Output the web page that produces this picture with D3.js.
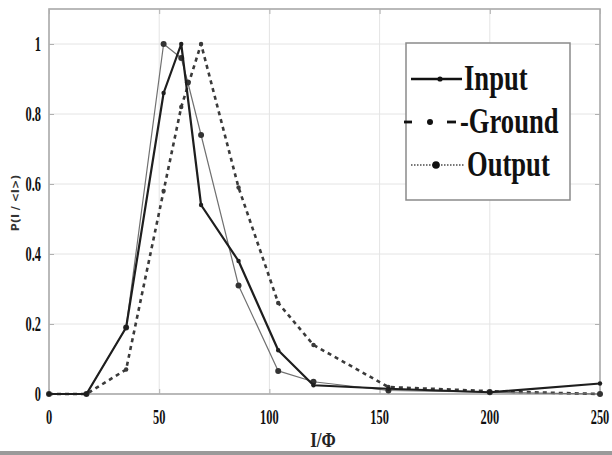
<!DOCTYPE html>
<html><head><meta charset="utf-8">
<script src="https://cdn.jsdelivr.net/npm/d3@7"></script>
<style>body{margin:0;background:#fff}svg{display:block}</style>
</head><body>
<svg id="c" width="612" height="455"></svg>
<script>
const xTicks = [0,50,100,150,200,250];
const yTicks = [0,0.2,0.4,0.6,0.8,1];
const yTickLabels = ["0","0.2","0.4","0.6","0.8","1"];
const seriesNames = ["Input","Ground","Output"];
const xInput = [0,17,35,52,60,69,86,104,120,154,200,250];
const yInput = [0,0,0.19,0.86,1.0,0.54,0.38,0.125,0.025,0.015,0.005,0.03];
const xGround = [0,17,35,52,60,69,86,104,120,154,200,250];
const yGround = [0,0,0.07,0.58,0.82,1.0,0.59,0.26,0.14,0.02,0.008,0.0];
const xOutput = [0,17,35,52,60,63,69,86,104,120,154,200,250];
const yOutput = [0,0,0.19,1.0,0.96,0.89,0.74,0.31,0.066,0.035,0.01,0.005,0.0];

const svg = d3.select("#c");
const L=49,R=600,T=9,B=394;
const x = d3.scaleLinear().domain([0,250]).range([L,R]);
const y = d3.scaleLinear().domain([0,1.1]).range([B,T]);
const condensed = "scale(0.62,1)";
const tickFont = "'Liberation Serif','Times New Roman',serif";

// grid
svg.append("g").selectAll("line").data(xTicks.slice(1,-1)).join("line")
  .attr("x1",d=>x(d)).attr("x2",d=>x(d)).attr("y1",T).attr("y2",B)
  .attr("stroke","#e4e4e4").attr("stroke-width",1);
svg.append("g").selectAll("line").data(yTicks.slice(1)).join("line")
  .attr("x1",L).attr("x2",R).attr("y1",d=>y(d)).attr("y2",d=>y(d))
  .attr("stroke","#e4e4e4").attr("stroke-width",1);

// axes box
svg.append("rect").attr("x",L).attr("y",T).attr("width",R-L).attr("height",B-T)
  .attr("fill","none").attr("stroke","#a8a8a8").attr("stroke-width",1.6);

// inner tick marks
const axB = d3.axisBottom(x).tickValues(xTicks).tickSize(-5).tickFormat("");
const axT = d3.axisTop(x).tickValues(xTicks).tickSize(-5).tickFormat("");
const axLf = d3.axisLeft(y).tickValues(yTicks).tickSize(-5).tickFormat("");
const axRt = d3.axisRight(y).tickValues(yTicks).tickSize(-5).tickFormat("");
[[axB,`translate(0,${B})`],[axT,`translate(0,${T})`],[axLf,`translate(${L},0)`],[axRt,`translate(${R},0)`]].forEach(([a,t])=>{
  const g = svg.append("g").attr("transform",t).call(a);
  g.select(".domain").remove();
  g.selectAll("line").attr("stroke","#b0b0b0");
});

// tick labels
svg.append("g").selectAll("text").data(xTicks).join("text")
  .attr("transform",d=>`translate(${x(d)},${B+30}) ${condensed}`)
  .attr("text-anchor","middle").attr("font-family",tickFont).attr("font-weight","bold")
  .attr("font-size",20).attr("fill","#111").text(d=>d);
svg.append("g").selectAll("text").data(yTicks).join("text")
  .attr("transform",d=>`translate(${L-8},${y(d)+7}) ${condensed}`)
  .attr("text-anchor","end").attr("font-family",tickFont).attr("font-weight","bold")
  .attr("font-size",20).attr("fill","#111").text((d,i)=>yTickLabels[i]);

// axis titles
svg.append("text").attr("transform",`translate(323,447) scale(0.78,1)`)
  .attr("text-anchor","middle").attr("font-family",tickFont).attr("font-weight","bold")
  .attr("font-size",22).attr("fill","#222").text("I/Φ");
svg.append("text").attr("transform","translate(19,203) rotate(-90)")
  .attr("text-anchor","middle").attr("font-family","'DejaVu Sans',sans-serif").attr("font-weight","bold")
  .attr("font-size",11).attr("fill","#333").text("P(I / <I>)");

// series
const styles = {
  Input:{stroke:"#1e1e1e",w:2.2,dash:null,r:2.2},
  Ground:{stroke:"#3a3a3a",w:2.6,dash:"4,4",r:2.2},
  Output:{stroke:"#707070",w:1.2,dash:null,r:3}
};
const data = {
  Input: xInput.map((v,i)=>[v,yInput[i]]),
  Ground: xGround.map((v,i)=>[v,yGround[i]]),
  Output: xOutput.map((v,i)=>[v,yOutput[i]])
};
const line = d3.line().x(d=>x(d[0])).y(d=>y(d[1]));
["Ground","Output","Input"].forEach(n=>{
  const s=styles[n];
  svg.append("path").datum(data[n]).attr("d",line).attr("fill","none")
    .attr("stroke",s.stroke).attr("stroke-width",s.w).attr("stroke-dasharray",s.dash)
    .attr("stroke-linejoin","round");
  svg.append("g").selectAll("circle").data(data[n]).join("circle")
    .attr("cx",d=>x(d[0])).attr("cy",d=>y(d[1])).attr("r",s.r)
    .attr("fill",n==="Output"?"#333":s.stroke);
});

// legend
const lg = svg.append("g");
lg.append("rect").attr("x",406).attr("y",43).attr("width",164).attr("height",157)
  .attr("fill","#fff").attr("stroke","#8a8a8a").attr("stroke-width",1.5);
seriesNames.forEach((n,i)=>{
  const cy = 79 + i*43;
  if (n==="Input") {
    lg.append("line").attr("x1",411).attr("x2",462).attr("y1",cy).attr("y2",cy)
      .attr("stroke","#111").attr("stroke-width",2.4);
    lg.append("circle").attr("cx",440).attr("cy",cy).attr("r",2.6).attr("fill","#111");
  } else if (n==="Ground") {
    [[404,412],[447,456]].forEach(([a,b])=>lg.append("line").attr("x1",a).attr("x2",b)
      .attr("y1",cy).attr("y2",cy).attr("stroke","#111").attr("stroke-width",2.8));
    lg.append("circle").attr("cx",430).attr("cy",cy).attr("r",3).attr("fill","#111");
  } else {
    lg.append("line").attr("x1",411).attr("x2",464).attr("y1",cy).attr("y2",cy)
      .attr("stroke","#777").attr("stroke-width",2).attr("stroke-dasharray","1.5,1.5");
    lg.append("circle").attr("cx",436).attr("cy",cy).attr("r",3.8).attr("fill","#111");
  }
  lg.append("text").attr("transform",`translate(${n==="Output"?467:n==="Ground"?460:464},${cy+11}) scale(0.76,1)`)
    .attr("font-family",tickFont).attr("font-weight","bold").attr("font-size",35)
    .attr("fill","#111").text(n==="Ground"?"-Ground":n);
});

// bottom border strip
svg.append("rect").attr("x",0).attr("y",451).attr("width",612).attr("height",4).attr("fill","#9a9a9a");
</script>
</body></html>
